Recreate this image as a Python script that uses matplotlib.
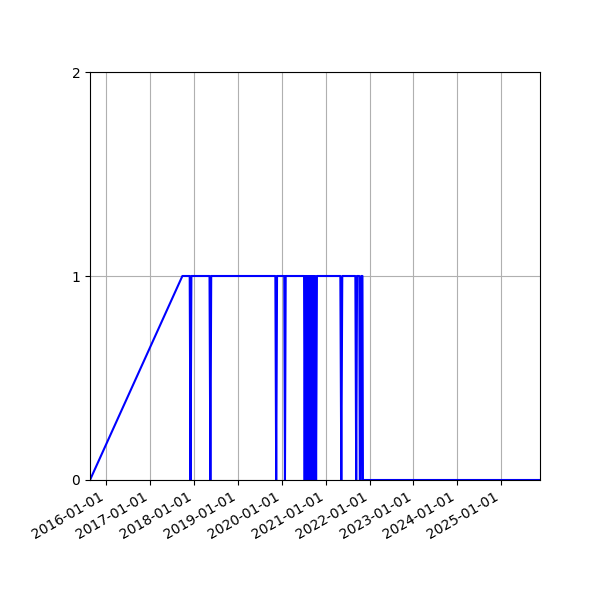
import matplotlib
matplotlib.use("Agg")
import matplotlib.pyplot as plt
import matplotlib.dates as mdates
import pandas as pd

# sampled status (1 = on, 0 = off)
dates = [
    "2015-08-19", "2017-09-26",
    "2017-11-26", "2017-12-03", "2017-12-10",
    "2018-05-10", "2018-05-17", "2018-05-24",
    "2019-11-09", "2019-11-16", "2019-11-23",
    "2020-01-22", "2020-01-28", "2020-02-03",
    "2020-07-05", "2020-07-10", "2020-07-15", "2020-07-20", "2020-07-25",
    "2020-07-30", "2020-08-04", "2020-08-09", "2020-08-14", "2020-08-19",
    "2020-08-24", "2020-08-29", "2020-09-03", "2020-09-08", "2020-09-13",
    "2020-09-18", "2020-09-23", "2020-09-29", "2020-10-06", "2020-10-13",
    "2020-10-20",
    "2021-05-03", "2021-05-11", "2021-05-19",
    "2021-09-05", "2021-09-12", "2021-09-19",
    "2021-10-08", "2021-10-12", "2021-10-20", "2021-10-24", "2021-11-03", "2021-11-07",
    "2025-11-20",
]
values = [
    0, 1,
    1, 0, 1,
    1, 0, 1,
    1, 0, 1,
    1, 0, 1,
    1, 0, 1, 0, 1,
    0, 1, 0, 1, 0,
    1, 0, 1, 0, 1,
    0, 1, 0, 1, 0,
    1,
    1, 0, 1,
    1, 0, 1,
    1, 0, 0, 1, 1, 0,
    0,
]

x = pd.to_datetime(dates)

fig, ax = plt.subplots(figsize=(6, 6), dpi=100)
fig.subplots_adjust(left=0.15, right=0.9, top=0.88, bottom=0.2)

ax.plot(x, values, color="b")
ax.set_xlim(x[0], x[-1])
ax.set_ylim(0, 2)
ax.set_yticks([0, 1, 2])
ax.xaxis.set_major_locator(mdates.YearLocator())
ax.xaxis.set_major_formatter(mdates.DateFormatter("%Y-%m-%d"))
ax.grid(True)
plt.setp(ax.get_xticklabels(), rotation=30, ha="right")

fig.savefig("out.png", dpi=100)
